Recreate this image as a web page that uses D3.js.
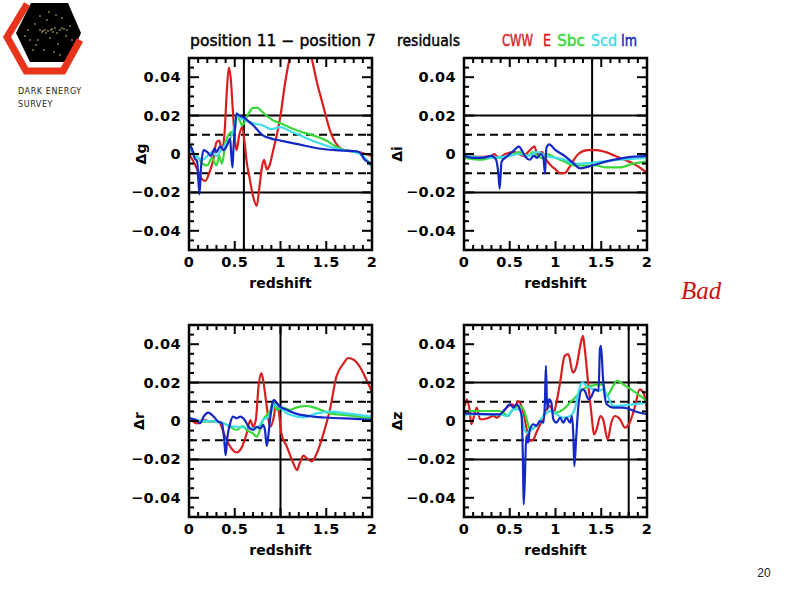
<!DOCTYPE html>
<html><head><meta charset="utf-8">
<script src="https://cdn.jsdelivr.net/npm/d3@7"></script>
<style>body{margin:0;background:#fff}svg{display:block}</style>
</head><body>
<svg id="c" width="794" height="595"></svg>
<script>
// ---------- DATA ----------
const seriesNames = ["CWW E", "Sbc", "Scd", "Im"];
const xTickLabels = ["0", "0.5", "1", "1.5", "2"];
const yTickValues = [0.04, 0.02, 0, -0.02, -0.04];
const yTickLabels = ["0.04", "0.02", "0", "\u22120.02", "\u22120.04"];
const bandLines = [0.02, -0.02];
const dashLines = [0.01, -0.01];
const panelLabels = ["\u0394g", "\u0394i", "\u0394r", "\u0394z"];
const verticalMarks = [0.6, 1.4, 1.0, 1.8];

// panel g  [redshift, residual]
const gCWW = [[0,0.000],[0.05,-0.004],[0.1,-0.009],[0.14,-0.013],[0.18,-0.014],[0.22,-0.010],[0.26,-0.004],[0.3,0.006],[0.33,0.007],[0.36,0.002],[0.39,0.012],[0.41,0.030],[0.435,0.045],[0.455,0.040],[0.48,0.022],[0.50,0.008],[0.52,0.002],[0.55,0.010],[0.58,0.014],[0.61,0.005],[0.63,-0.004],[0.66,-0.012],[0.70,-0.022],[0.74,-0.027],[0.77,-0.017],[0.80,-0.006],[0.82,-0.003],[0.85,-0.008],[0.88,-0.006],[0.92,0.002],[0.96,0.010],[1.0,0.020],[1.05,0.037],[1.1,0.050],[1.2,0.066],[1.27,0.062],[1.34,0.050],[1.4,0.037],[1.45,0.028],[1.5,0.019],[1.55,0.011],[1.6,0.006],[1.7,0.002],[1.85,0.001],[2.0,-0.001]];
const gSbc = [[0,0.004],[0.05,0.001],[0.1,-0.002],[0.15,-0.005],[0.2,-0.006],[0.25,-0.002],[0.3,-0.006],[0.33,-0.001],[0.36,-0.005],[0.4,0.006],[0.45,0.011],[0.5,0.012],[0.52,0.021],[0.55,0.018],[0.58,0.015],[0.6,0.016],[0.65,0.021],[0.7,0.024],[0.75,0.024],[0.8,0.022],[0.9,0.018],[1.0,0.016],[1.2,0.012],[1.4,0.009],[1.5,0.007],[1.6,0.004],[1.7,0.002],[1.85,0.001],[1.92,-0.002],[2.0,-0.006]];
const gScd = [[0,0.003],[0.05,0.000],[0.1,-0.002],[0.15,-0.003],[0.2,-0.001],[0.25,0.001],[0.3,-0.001],[0.35,0.002],[0.4,0.005],[0.45,0.008],[0.5,0.015],[0.52,0.021],[0.55,0.019],[0.6,0.018],[0.7,0.016],[0.8,0.015],[0.9,0.013],[1.0,0.014],[1.1,0.012],[1.2,0.010],[1.4,0.006],[1.6,0.003],[1.8,0.001],[1.9,-0.001],[2.0,-0.007]];
const gIm = [[0,0.005],[0.03,0.003],[0.06,-0.002],[0.09,-0.004],[0.1,-0.012],[0.115,-0.021],[0.13,-0.008],[0.16,0.002],[0.2,0.001],[0.24,-0.001],[0.28,0.003],[0.3,0.001],[0.34,0.004],[0.38,0.002],[0.42,0.005],[0.45,0.008],[0.46,0.001],[0.475,-0.007],[0.485,0.002],[0.5,0.012],[0.52,0.021],[0.55,0.020],[0.6,0.019],[0.65,0.017],[0.7,0.015],[0.8,0.010],[0.9,0.008],[1.0,0.007],[1.2,0.005],[1.4,0.003],[1.6,0.002],[1.8,0.0015],[1.86,0.001],[1.92,-0.003],[2.0,-0.005]];

// panel i
const iCWW = [[0,-0.001],[0.2,-0.0015],[0.3,-0.001],[0.33,0.000],[0.38,-0.002],[0.45,0.000],[0.55,0.001],[0.65,-0.001],[0.72,0.002],[0.77,0.004],[0.8,0.000],[0.85,0.001],[0.9,-0.003],[0.95,-0.006],[1.0,-0.008],[1.05,-0.010],[1.1,-0.010],[1.15,-0.007],[1.2,-0.003],[1.25,0.000],[1.35,0.002],[1.45,0.002],[1.55,0.001],[1.7,-0.002],[1.85,-0.005],[1.95,-0.008],[2.0,-0.010]];
const iSbc = [[0,-0.002],[0.2,-0.003],[0.3,-0.002],[0.4,-0.002],[0.5,-0.001],[0.6,0.001],[0.7,-0.001],[0.75,0.001],[0.8,-0.001],[0.85,-0.002],[0.9,0.000],[1.0,-0.002],[1.1,-0.004],[1.2,-0.006],[1.3,-0.006],[1.45,-0.006],[1.55,-0.007],[1.7,-0.007],[1.85,-0.005],[2.0,-0.004]];
const iScd = [[0,-0.001],[0.3,-0.002],[0.5,-0.001],[0.6,0.000],[0.7,-0.001],[0.8,0.001],[0.9,-0.001],[1.0,-0.002],[1.1,-0.003],[1.2,-0.005],[1.3,-0.005],[1.5,-0.004],[1.7,-0.003],[2.0,-0.002]];
const iIm = [[0,-0.001],[0.1,-0.002],[0.2,-0.002],[0.3,-0.001],[0.35,-0.003],[0.375,-0.010],[0.39,-0.018],[0.41,-0.004],[0.45,-0.002],[0.5,0.000],[0.55,0.002],[0.6,0.004],[0.63,0.002],[0.68,-0.002],[0.72,-0.003],[0.76,-0.001],[0.8,-0.002],[0.84,0.000],[0.87,-0.003],[0.885,-0.010],[0.9,0.003],[0.93,0.005],[1.0,0.002],[1.1,-0.001],[1.2,-0.005],[1.27,-0.0075],[1.4,-0.006],[1.55,-0.004],[1.75,-0.002],[2.0,-0.001]];

// panel r
const rCWW = [[0.01,0.0014],[0.08,-0.0012],[0.14,-0.0003],[0.17,0.0005],[0.23,-0.0003],[0.32,-0.0003],[0.41,-0.0099],[0.48,-0.0152],[0.52,-0.0164],[0.58,-0.0134],[0.63,-0.0065],[0.67,0.0005],[0.70,-0.003],[0.73,0.0005],[0.76,0.018],[0.79,0.025],[0.81,0.0214],[0.85,0.0075],[0.885,-0.003],[0.93,0.003],[0.95,0.010],[0.98,0.0058],[1.01,-0.0065],[1.07,-0.0134],[1.14,-0.022],[1.18,-0.0256],[1.21,-0.022],[1.25,-0.018],[1.29,-0.0195],[1.34,-0.021],[1.395,-0.017],[1.47,-0.0065],[1.54,0.0058],[1.61,0.023],[1.69,0.030],[1.74,0.0328],[1.80,0.0319],[1.87,0.028],[1.94,0.0214],[2.0,0.0153]];
const rSbc = [[0.01,0.0014],[0.16,-0.0003],[0.27,0],[0.375,-0.0012],[0.45,-0.003],[0.52,-0.0047],[0.59,-0.0026],[0.63,-0.0047],[0.70,-0.0065],[0.74,-0.0082],[0.78,-0.0038],[0.81,0.0005],[0.85,0.0031],[0.885,0.0049],[0.92,0.010],[0.96,0.0058],[1.01,0.0071],[1.10,0.0058],[1.18,0.0071],[1.29,0.0078],[1.395,0.0066],[1.54,0.004],[1.72,0.0031],[2.0,0.0014]];
const rScd = [[0.01,0.0005],[0.27,-0.0003],[0.375,-0.0012],[0.45,-0.0026],[0.52,-0.003],[0.59,-0.0033],[0.665,-0.0038],[0.74,-0.0038],[0.81,0.0005],[0.885,0.0031],[0.93,0.0085],[0.98,0.0075],[1.07,0.0040],[1.18,0.0023],[1.25,0.0019],[1.395,0.004],[1.54,0.0049],[1.72,0.004],[2.0,0.0023]];
const rIm = [[0.01,0.0014],[0.08,0.0005],[0.12,-0.0012],[0.16,0.0023],[0.21,0.0044],[0.27,0.0023],[0.32,-0.0003],[0.36,-0.0012],[0.385,-0.0099],[0.40,-0.0178],[0.42,-0.0082],[0.45,-0.0012],[0.48,0.0023],[0.52,0.0014],[0.56,0.0023],[0.61,0.0005],[0.65,-0.003],[0.70,-0.0047],[0.74,-0.003],[0.78,-0.0038],[0.81,-0.0021],[0.83,-0.0047],[0.85,-0.013],[0.87,-0.0065],[0.885,0.0005],[0.915,0.010],[0.93,0.011],[0.96,0.0092],[0.995,0.0075],[1.07,0.0058],[1.18,0.0037],[1.36,0.0023],[1.54,0.0017],[1.905,0.0009],[2.0,0.0005]];

// panel z
const zCWW = [[0.01,0.0078],[0.03,0.0113],[0.06,0.0061],[0.08,-0.0017],[0.11,0.0026],[0.14,0.0070],[0.175,0.0009],[0.21,0.0009],[0.27,0.0017],[0.32,0.0026],[0.36,0.0017],[0.41,0.004],[0.45,0.0061],[0.485,0.0078],[0.52,0.0087],[0.56,0.0078],[0.59,0.0104],[0.65,0.0043],[0.685,-0.0043],[0.72,-0.0104],[0.76,-0.0096],[0.79,-0.0061],[0.85,0],[0.90,0.0061],[0.94,0.0078],[0.98,0.0043],[1.01,0.0096],[1.05,0.020],[1.10,0.0339],[1.14,0.0348],[1.19,0.0252],[1.23,0.0287],[1.27,0.0391],[1.30,0.0443],[1.32,0.0374],[1.36,0.0183],[1.395,0.0026],[1.42,-0.007],[1.45,-0.0043],[1.49,0.0026],[1.52,0.0009],[1.57,-0.0096],[1.61,-0.0009],[1.65,0.0026],[1.705,0.0009],[1.76,-0.0035],[1.81,-0.0009],[1.87,0.0078],[1.92,0.0165],[1.96,0.0148],[2.0,0.0061]];
const zSbc = [[0.01,0.0052],[0.39,0.0052],[0.45,0.0035],[0.485,0.0026],[0.52,0.0052],[0.56,0.007],[0.61,0.0078],[0.65,0.0061],[0.685,0.0009],[0.72,-0.0043],[0.79,-0.0026],[0.87,0.0026],[0.94,0.0052],[1.01,0.0043],[1.085,0.0061],[1.16,0.0096],[1.23,0.013],[1.30,0.0165],[1.38,0.0183],[1.52,0.0191],[1.56,0.013],[1.63,0.0183],[1.67,0.0209],[1.74,0.0191],[1.85,0.0157],[2.0,0.0104]];
const zScd = [[0.01,0.0035],[0.39,0.0035],[0.47,0.0026],[0.54,0.0061],[0.61,0.0061],[0.65,-0.0026],[0.685,-0.0061],[0.72,-0.0052],[0.79,-0.0026],[0.87,0.0026],[0.94,0.0052],[1.01,0.0035],[1.085,0.0017],[1.16,0.0026],[1.21,0.0061],[1.25,0.0148],[1.29,0.020],[1.34,0.0183],[1.41,0.0165],[1.47,0.0157],[1.52,0.0165],[1.56,0.0139],[1.63,0.0078],[1.74,0.0082],[1.85,0.0087],[2.0,0.0096]];
const zIm = [[0.01,0.004],[0.39,0.0035],[0.45,0.0061],[0.50,0.0087],[0.54,0.007],[0.575,0.0087],[0.61,0.0061],[0.63,0.0026],[0.645,-0.0235],[0.652,-0.0435],[0.665,-0.0304],[0.68,-0.0078],[0.70,-0.0113],[0.72,-0.0043],[0.76,-0.0017],[0.79,-0.0026],[0.83,0],[0.87,-0.0009],[0.885,0.0113],[0.895,0.0287],[0.91,0.0061],[0.93,0.0113],[0.955,0.0096],[0.976,0.0009],[1.01,-0.0009],[1.05,0.0017],[1.085,-0.0009],[1.12,0.0017],[1.16,-0.0009],[1.18,0.0026],[1.195,-0.0078],[1.206,-0.0235],[1.225,-0.0096],[1.25,0.0078],[1.29,0.0165],[1.32,0.0157],[1.36,0.0113],[1.395,0.013],[1.43,0.0165],[1.47,0.0157],[1.486,0.0374],[1.497,0.0391],[1.52,0.0217],[1.56,0.0087],[1.63,0.007],[1.74,0.007],[1.89,0.0047],[2.0,0.0035]];

// ---------- LAYOUT / STYLE ----------
const colors = ["#d81e1e", "#38d838", "#3fdcec", "#1428c4"];
const panels = [
  {label: panelLabels[0], vx: verticalMarks[0], data: [gCWW, gSbc, gScd, gIm], x0: 189, x1: 372, y0: 58, y1: 250, labX: 141},
  {label: panelLabels[1], vx: verticalMarks[1], data: [iCWW, iSbc, iScd, iIm], x0: 464, x1: 647, y0: 58, y1: 250, labX: 397},
  {label: panelLabels[2], vx: verticalMarks[2], data: [rCWW, rSbc, rScd, rIm], x0: 189, x1: 372, y0: 325, y1: 517, labX: 139},
  {label: panelLabels[3], vx: verticalMarks[3], data: [zCWW, zSbc, zScd, zIm], x0: 464, x1: 647, y0: 325, y1: 517, labX: 397}
];

const svg = d3.select("#c");
const tickFont = "'DejaVu Sans', sans-serif";

panels.forEach((p, pi) => {
  const x = d3.scaleLinear().domain([0, 2]).range([p.x0, p.x1]);
  const y = d3.scaleLinear().domain([-0.05, 0.05]).range([p.y1, p.y0]);
  const g = svg.append("g");
  const clipId = "clip" + pi;
  g.append("clipPath").attr("id", clipId).append("rect")
    .attr("x", p.x0).attr("y", p.y0).attr("width", p.x1 - p.x0).attr("height", p.y1 - p.y0);

  // reference lines
  g.selectAll(".band").data(bandLines).join("line")
    .attr("x1", p.x0).attr("x2", p.x1).attr("y1", d => y(d)).attr("y2", d => y(d))
    .attr("stroke", "#000").attr("stroke-width", 2);
  g.selectAll(".dash").data(dashLines).join("line")
    .attr("x1", p.x0).attr("x2", p.x1).attr("y1", d => y(d)).attr("y2", d => y(d))
    .attr("stroke", "#000").attr("stroke-width", 2).attr("stroke-dasharray", "8,5");
  g.append("line").attr("x1", x(p.vx)).attr("x2", x(p.vx)).attr("y1", p.y0).attr("y2", p.y1)
    .attr("stroke", "#000").attr("stroke-width", 2);

  // series
  const line = d3.line().x(d => x(d[0])).y(d => y(d[1])).curve(d3.curveMonotoneX);
  const lg = g.append("g").attr("clip-path", `url(#${clipId})`);
  p.data.forEach((s, si) => {
    lg.append("path").attr("d", line(s)).attr("fill", "none")
      .attr("stroke", colors[si]).attr("stroke-width", 2.2).attr("stroke-linejoin", "round");
  });

  // ticks inside, all four sides
  const xt = d3.range(0, 20.5, 1).map(i => i / 10);
  xt.forEach(t => {
    const major = Math.abs(t * 2 - Math.round(t * 2)) < 1e-6;
    const L = major ? 9 : 5;
    g.append("line").attr("x1", x(t)).attr("x2", x(t)).attr("y1", p.y1).attr("y2", p.y1 - L).attr("stroke", "#000").attr("stroke-width", 2);
    g.append("line").attr("x1", x(t)).attr("x2", x(t)).attr("y1", p.y0).attr("y2", p.y0 + L).attr("stroke", "#000").attr("stroke-width", 2);
  });
  const yt = d3.range(-10, 10.5, 1).map(i => i * 0.005);
  yt.forEach(t => {
    const major = Math.abs(t / 0.02 - Math.round(t / 0.02)) < 1e-6;
    const L = major ? 10 : 5;
    g.append("line").attr("y1", y(t)).attr("y2", y(t)).attr("x1", p.x0).attr("x2", p.x0 + L).attr("stroke", "#000").attr("stroke-width", 2);
    g.append("line").attr("y1", y(t)).attr("y2", y(t)).attr("x1", p.x1).attr("x2", p.x1 - L).attr("stroke", "#000").attr("stroke-width", 2);
  });

  // frame
  g.append("rect").attr("x", p.x0).attr("y", p.y0).attr("width", p.x1 - p.x0).attr("height", p.y1 - p.y0)
    .attr("fill", "none").attr("stroke", "#000").attr("stroke-width", 2.5);

  // tick labels
  const xv = xTickLabels.map(Number);
  g.selectAll(".xl").data(xv).join("text")
    .attr("x", d => x(d)).attr("y", p.y1 + 17).attr("text-anchor", "middle")
    .attr("font-family", tickFont).attr("font-weight", "bold").attr("font-size", 14.5)
    .attr("letter-spacing", 0.4)
    .text((d, i) => xTickLabels[i]);
  g.selectAll(".yl").data(yTickValues).join("text")
    .attr("x", p.x0 - 8).attr("y", d => y(d) + 5).attr("text-anchor", "end")
    .attr("font-family", tickFont).attr("font-weight", "bold").attr("font-size", 14.5)
    .attr("letter-spacing", 0.4)
    .text((d, i) => yTickLabels[i]);

  // axis titles
  g.append("text").attr("x", (p.x0 + p.x1) / 2).attr("y", p.y1 + 38).attr("text-anchor", "middle")
    .attr("font-family", tickFont).attr("font-weight", "bold").attr("font-size", 14).text("redshift");
  g.append("text").attr("transform", `translate(${p.labX + 5},${(p.y0 + p.y1) / 2}) rotate(-90)`)
    .attr("text-anchor", "middle").attr("font-family", tickFont).attr("font-weight", "bold").attr("font-size", 14)
    .text(p.label);
});

// title
const tf = "'DejaVu Sans', sans-serif";
function titleText(t, x0, w, col) {
  svg.append("text").attr("x", x0).attr("y", 46).attr("font-family", tf).attr("font-size", 15.5)
    .attr("textLength", w).attr("lengthAdjust", "spacingAndGlyphs")
    .attr("fill", col).attr("stroke", col).attr("stroke-width", 0.45).text(t);
}
titleText("position 11 \u2212 position 7", 190, 186, "#000");
titleText("residuals", 397, 63, "#000");
const legendX = [502, 543, 557, 591, 621];
const legendW = [31, 8, 28, 26, 16];
const legendParts = ["CWW", "E", "Sbc", "Scd", "Im"];
const legendCol = [colors[0], colors[0], colors[1], colors[2], colors[3]];
legendParts.forEach((t, i) => titleText(t, legendX[i], legendW[i], legendCol[i]));

// logo
const logo = svg.append("g");
logo.append("path").attr("d", "M31,3 L68,3 L81,33 L68,62 L30,62 L16,33 Z").attr("fill", "#000");
logo.append("path").attr("d", "M27,4 L7,37 L26,71 L63,71 L80,40").attr("fill", "none")
  .attr("stroke", "#e8341c").attr("stroke-width", 7).attr("stroke-linejoin", "miter");
const stars = [[42,32],[45,30],[48,31],[52,29],[55,28],[60,30],[64,29],[38,40],[50,38],[58,44],[66,36],[35,24],[47,20],[62,18],[70,26],[44,50],[54,52],[30,40],[40,30],[57,33],[43,31],[46,33],[51,30],[53,32],[62,28],[67,30],[36,45],[28,30],[33,50],[60,55],[72,40],[25,36],[49,12],[56,15],[40,16]];
logo.selectAll("circle").data(stars).join("circle")
  .attr("cx", d => d[0]).attr("cy", d => d[1]).attr("r", 0.8).attr("fill", "#e0d080");
svg.append("text").attr("x", 18).attr("y", 94).attr("font-family", "'DejaVu Sans', sans-serif").attr("font-size", 8)
  .attr("letter-spacing", 0.6).attr("fill", "#222").text("DARK ENERGY");
svg.append("text").attr("x", 18).attr("y", 107).attr("font-family", "'DejaVu Sans', sans-serif").attr("font-size", 8)
  .attr("letter-spacing", 0.6).attr("fill", "#222").text("SURVEY");

// annotations
svg.append("text").attr("x", 681).attr("y", 299).attr("font-family", "'Liberation Serif', serif")
  .attr("font-style", "italic").attr("font-size", 25).attr("fill", "#cc1111").text("Bad");
svg.append("text").attr("x", 764).attr("y", 577).attr("text-anchor", "middle")
  .attr("font-family", "'Liberation Sans', sans-serif").attr("font-size", 12).attr("fill", "#222").text("20");
</script>
</body></html>
